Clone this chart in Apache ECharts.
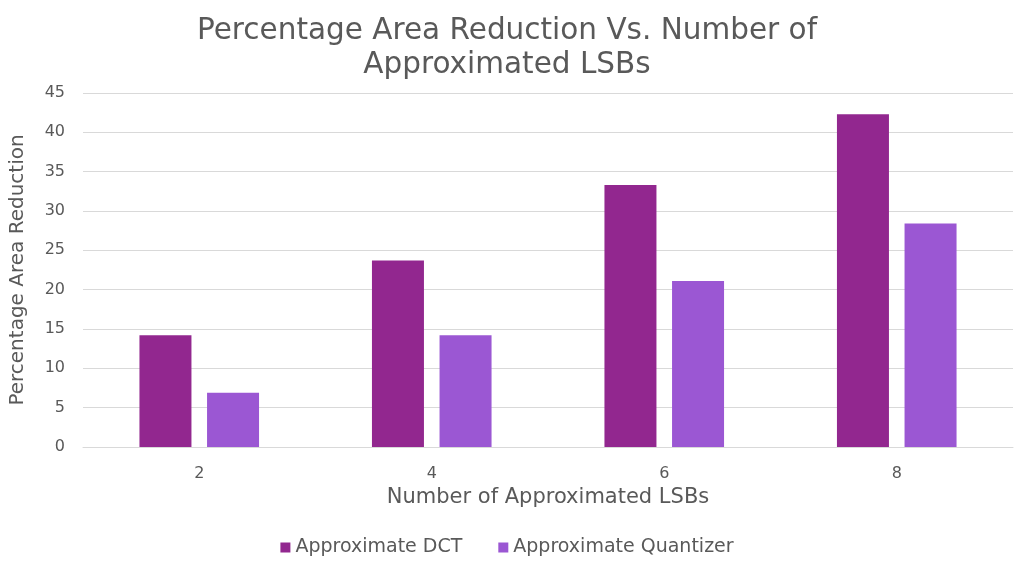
<!DOCTYPE html>
<html>
<head>
<meta charset="utf-8">
<script src="https://cdn.jsdelivr.net/npm/echarts@6/dist/echarts.min.js"></script>
<style>
  html, body { margin: 0; padding: 0; background: #fff; }
  #chart { width: 1014px; height: 565px; }
</style>
</head>
<body>
<div id="chart"></div>
<script>
// Number of approximated LSBs
const categories = ['2', '4', '6', '8'];
// Percentage area reduction per design
const approxDCT = [14.2, 23.7, 33.3, 42.3];
const approxQuantizer = [6.9, 14.2, 21.1, 28.4];

const textColor = '#595959';
const fontFamily = '"DejaVu Sans", sans-serif';

const chart = echarts.init(document.getElementById('chart'));
chart.setOption({
  animation: false,
  textStyle: { fontFamily: fontFamily, color: textColor },
  title: {
    text: 'Percentage Area Reduction Vs. Number of\nApproximated LSBs',
    left: 'center',
    top: 9,
    textStyle: { fontFamily: fontFamily, fontSize: 29.5, fontWeight: 'normal', color: textColor, lineHeight: 34 }
  },
  legend: {
    bottom: 3,
    left: 'center',
    itemWidth: 10,
    itemHeight: 10,
    itemGap: 36,
    icon: 'rect',
    textStyle: { fontFamily: fontFamily, fontSize: 19, color: textColor }
  },
  grid: { left: 83, right: 1, top: 93, bottom: 118 },
  xAxis: {
    type: 'category',
    data: categories,
    name: 'Number of Approximated LSBs',
    nameLocation: 'middle',
    nameGap: 36,
    nameTextStyle: { fontFamily: fontFamily, fontSize: 21, color: textColor },
    axisLine: { lineStyle: { color: '#d9d9d9' } },
    axisTick: { show: false },
    axisLabel: { fontSize: 16, color: textColor, margin: 19 }
  },
  yAxis: {
    type: 'value',
    min: 0,
    max: 45,
    interval: 5,
    name: 'Percentage Area Reduction',
    nameLocation: 'middle',
    nameGap: 55,
    nameTextStyle: { fontFamily: fontFamily, fontSize: 20, color: textColor },
    axisLine: { show: false },
    axisTick: { show: false },
    axisLabel: { fontSize: 16, color: textColor, margin: 18 },
    splitLine: { lineStyle: { color: '#d9d9d9', width: 1 } }
  },
  series: [
    {
      name: 'Approximate DCT',
      type: 'bar',
      data: approxDCT,
      barWidth: 52,
      barGap: '30%',
      itemStyle: { color: '#92278F' }
    },
    {
      name: 'Approximate Quantizer',
      type: 'bar',
      data: approxQuantizer,
      barWidth: 52,
      itemStyle: { color: '#9B57D3' }
    }
  ]
});
</script>
</body>
</html>
